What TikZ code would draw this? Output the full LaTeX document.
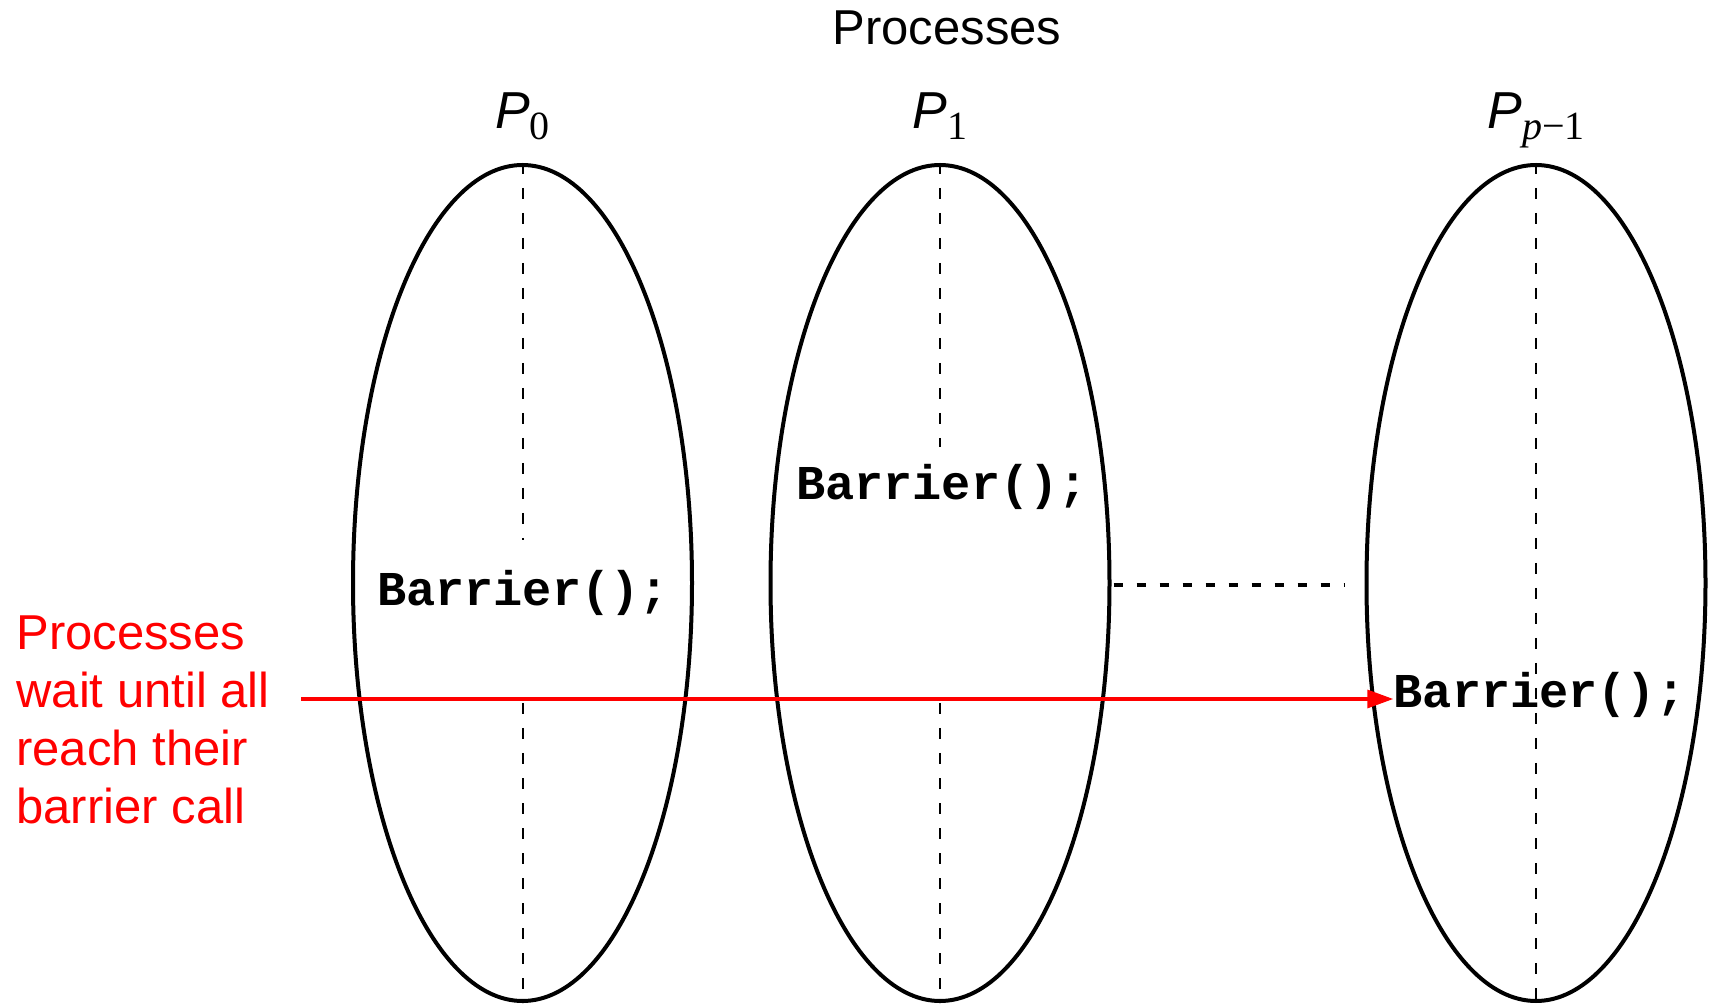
\documentclass[tikz,border=0pt]{standalone}
\usepackage{fontspec}
\setmainfont{Liberation Sans}
\newfontfamily\bcode{Liberation Mono}[BoldFont={* Bold}]
\newfontfamily\bsub{Liberation Serif}
\usetikzlibrary{arrows.meta, shapes.geometric, calc}
\definecolor{bwRed}{HTML}{FF0000}
\newcommand{\bwsize}{\fontsize{24.5}{29}\selectfont}
\newcommand{\bwproc}[1]{%
  {\fontsize{26}{30}\selectfont\itshape P}%
  \raisebox{-5.5pt}{\bsub\fontsize{20}{20}\selectfont #1}%
}
\tikzset{
  bwproc/.style={
    draw=black, ellipse, line width=2pt, inner sep=0pt,
    minimum width=169.5pt, minimum height=418pt,
  },
  bwcall/.style={
    inner sep=0pt, font=\bcode\bfseries\fontsize{24.3}{28}\selectfont,
  },
  bwlabel/.style={inner sep=0pt, anchor=base},
  bwmid/.style={line width=1pt, dash pattern=on 5.5pt off 7pt},
  bwgap/.style={line width=1.8pt, dash pattern=on 4.5pt off 7pt},
  bwwait/.style={
    -{Triangle[length=13pt, width=9pt]}, draw=bwRed, line width=1.7pt,
  },
}

\begin{document}
\begin{tikzpicture}[x=0.5pt, y=-0.5pt]
\useasboundingbox (0,0) rectangle (1710,1005);

% Title -------------------------------------------------------------------
\node[bwlabel, font=\bwsize] (title) at (947,45) {Processes};

% Processes ---------------------------------------------------------------
\node[bwproc] (e0) at (522.5,583) {};
\node[bwproc] (e1) at (940,583) {};
\node[bwproc] (e2) at (1536,583) {};

\node[bwlabel] (p0) at ($(e0.north)+(0,-34)$) {\bwproc{0}};
\node[bwlabel] (p1) at ($(e1.north)+(0,-34)$) {\bwproc{1}};
\node[bwlabel] (p2) at ($(e2.north)+(0,-34)$) {\bwproc{\itshape p\upshape\char"2212 1}};

% Barrier calls -------------------------------------------------------------
\node[bwcall] (b0) at (523,593) {Barrier();};
\node[bwcall] (b1) at (942,487) {Barrier();};
\node[bwcall] (b2) at (1539.5,695) {Barrier();};

\coordinate (m0a) at (522.5,540);
\coordinate (m0b) at (522.5,703);
\coordinate (m1a) at (940,447);
\coordinate (m1b) at (940,703);

\draw[bwmid] (e0.north) -- (m0a);
\draw[bwmid] (m0b) -- (e0.south);
\draw[bwmid] (e1.north) -- (m1a);
\draw[bwmid] (m1b) -- (e1.south);
\draw[bwmid] (e2.north) -- (e2.south);

\draw[bwgap, shorten >=10pt] ($(e1.east)+(2,2)$) -- ($(e2.west)+(0,2)$);

% Waiting -------------------------------------------------------------------
\node[inner sep=0pt, anchor=west, align=left, text=bwRed, font=\bwsize]
  (wait) at (16,720) {Processes\\wait until all\\reach their\\barrier call};
\coordinate (wstart) at (301,699);
\draw[bwwait] (wstart) -- (b2.west |- wstart);

\end{tikzpicture}
\end{document}
